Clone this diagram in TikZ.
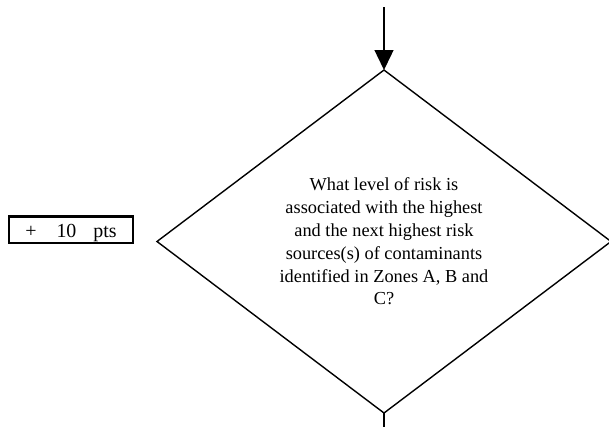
\documentclass[tikz,border=0pt]{standalone}
\usepackage{fontspec}
\setmainfont{Liberation Serif}
\usetikzlibrary{shapes.geometric,arrows.meta}
\tikzset{
  decision/.style={diamond, draw, line width=1.4bp, minimum width=454bp, minimum height=343bp, inner sep=0pt, outer sep=0pt, align=center, font=\fontsize{18.4}{22.9}\selectfont},
  scorebox/.style={draw, line width=2.5bp, minimum width=124bp, minimum height=26.5bp, inner sep=0pt, outer sep=0pt, text height=19.3bp, text depth=4.3bp, font=\fontsize{20}{24}\selectfont},
  flow/.style={line width=1.4bp},
}
\begin{document}
\begin{tikzpicture}[x=1bp,y=-1bp]
\useasboundingbox (0,0) rectangle (609,427);
\node[decision] (q) at (384,241.5) {What level of risk is\\associated with the highest\\and the next highest risk\\sources(s) of contaminants\\identified in Zones A, B and\\C?};
\coordinate (in) at (384,7);
\coordinate (out) at (384,427);
\draw[flow,-{Triangle[width=19bp,length=20bp]}] (in) -- (q.north);
\draw[flow] (q.south) -- (out);
\node[scorebox] (pts) at (71,229.5) {+\hspace{20bp}10\hspace{17bp}pts\hspace{11bp}};
\end{tikzpicture}
\end{document}
